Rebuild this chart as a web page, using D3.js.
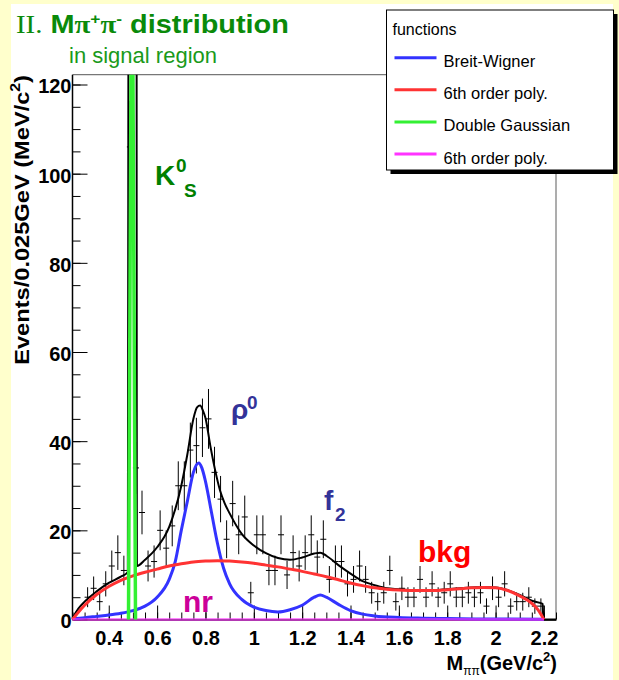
<!DOCTYPE html>
<html>
<head>
<meta charset="utf-8">
<script src="https://cdn.jsdelivr.net/npm/d3@7"></script>
<style>
  body { margin: 0; background: #ffffcc; }
  svg { display: block; }
  text { font-family: "Liberation Sans", Arial, sans-serif; }
</style>
</head>
<body>
<div id="plot"></div>
<script>
// histogram: events per 0.025 GeV bin, first bin starts at 0.25 GeV
const binStart = 0.25,
    binWidth = 0.025;
const counts = [
    0, 0, 5, 7, 4, 8, 12, 15, 11, 106,
    34, 24, 12, 13, 20, 16, 21, 30, 30, 38,
    39, 43, 45, 33, 27, 18, 26, 19, 23, 6,
    19, 19, 11, 11, 19, 10, 15, 12, 15, 19,
    14, 18, 9, 13, 13, 8, 9, 12, 9, 6,
    4, 6, 11, 4, 7, 5, 5, 9, 5, 8,
    5, 6, 8, 5, 5, 6, 5, 6, 3, 7,
    5, 8, 3, 4, 4, 5, 3, 3
];

// fitted curves as [mass, events]
const totalFit = [
    [0.25, 0.3], [0.275, 2.5], [0.30, 4.0], [0.35, 6.3], [0.40, 8.2], [0.45, 9.6],
    [0.478, 10.6], [0.4855, 300], [0.5135, 300], [0.5165, 12.0], [0.55, 13.4],
    [0.60, 16.2], [0.65, 20.8], [0.70, 30], [0.725, 37], [0.75, 45], [0.765, 47.6],
    [0.778, 48.0], [0.79, 46.8], [0.80, 45.2], [0.82, 39], [0.84, 33.5], [0.86, 29],
    [0.88, 26], [0.90, 23.8], [0.95, 19.2], [1.00, 16.6], [1.05, 14.9], [1.10, 13.8],
    [1.15, 13.4], [1.20, 13.9], [1.25, 14.8], [1.275, 15.0], [1.30, 14.3], [1.35, 12.2],
    [1.40, 10.3], [1.45, 8.6], [1.50, 7.7], [1.55, 7.0], [1.60, 6.8], [1.65, 6.6],
    [1.70, 6.6], [1.75, 6.6], [1.80, 6.8], [1.85, 7.0], [1.90, 7.2], [1.95, 7.3],
    [2.00, 7.2], [2.05, 6.6], [2.10, 5.5], [2.15, 4.2], [2.195, 3.5], [2.1975, 0], [2.25, 0]
];
const breitWigner = [
    [0.25, 0.2], [0.30, 0.4], [0.35, 0.7], [0.40, 1.0], [0.45, 1.4], [0.50, 2.0],
    [0.55, 3.0], [0.60, 5.0], [0.65, 9.0], [0.675, 13], [0.70, 20], [0.725, 26.5],
    [0.75, 33], [0.772, 35.1], [0.785, 34], [0.80, 31], [0.825, 24], [0.85, 17],
    [0.875, 11.5], [0.90, 8], [0.95, 4.5], [1.00, 2.8], [1.05, 2.0], [1.10, 1.7],
    [1.15, 2.2], [1.20, 3.2], [1.25, 5.0], [1.275, 5.5], [1.30, 5.0], [1.35, 3.4],
    [1.40, 2.0], [1.45, 1.2], [1.50, 0.8], [1.60, 0.45], [1.70, 0.3], [1.80, 0.2],
    [2.00, 0.1], [2.20, 0.05]
];
const bkgPoly = [
    [0.25, 0], [0.275, 1.7], [0.30, 3.2], [0.35, 5.6], [0.40, 7.4], [0.45, 8.8],
    [0.50, 9.8], [0.55, 10.6], [0.60, 11.3], [0.65, 12.0], [0.70, 12.5], [0.75, 12.9],
    [0.80, 13.1], [0.85, 13.2], [0.90, 13.1], [0.95, 12.9], [1.00, 12.6], [1.05, 12.2],
    [1.10, 11.8], [1.15, 11.3], [1.20, 10.8], [1.25, 10.2], [1.30, 9.6], [1.35, 8.9],
    [1.40, 8.2], [1.45, 7.6], [1.50, 7.1], [1.55, 6.8], [1.60, 6.6], [1.65, 6.5],
    [1.70, 6.5], [1.75, 6.5], [1.80, 6.7], [1.85, 6.9], [1.90, 7.1], [1.95, 7.2],
    [2.00, 7.1], [2.05, 6.5], [2.10, 5.3], [2.15, 3.6], [2.175, 2.2], [2.20, 0]
];
const doubleGauss = [[0.4816, 0], [0.496, 170], [0.5106, 0]];
const nrPoly = [[0.25, 0], [0.70, 0], [1.50, 0], [2.20, 0]];

// axis ticks
const xTicks = [0.4, 0.6, 0.8, 1.0, 1.2, 1.4, 1.6, 1.8, 2.0, 2.2];
const xTickLabels = ["0.4", "0.6", "0.8", "1", "1.2", "1.4", "1.6", "1.8", "2", "2.2"];
const yTicks = [0, 20, 40, 60, 80, 100, 120];
const yTickLabels = ["0", "20", "40", "60", "80", "100", "120"];

// legend
const legendLabels = ["Breit-Wigner", "6th order poly.", "Double Gaussian", "6th order poly."];
const legendColors = ["#3333ff", "#ff3333", "#33f033", "#ff33ff"];

// frame of the plot
const frame = { left: 72.5, right: 556, top: 74.7, bottom: 619.5 };

const x = d3.scaleLinear().domain([0.25, 2.25]).range([frame.left, frame.right]);
const y = d3.scaleLinear().domain([0, 122.2]).range([frame.bottom, frame.top]);

const svg = d3.select("#plot")
    .append("svg")
    .attr("width", 619)
    .attr("height", 680);

// slide background
svg.append("rect").attr("width", 619).attr("height", 680).attr("fill", "#ffffcc");
svg.append("rect").attr("x", 11).attr("y", 4).attr("width", 602).attr("height", 676).attr("fill", "#fff");

// top and right frame (grey)
svg.append("path")
    .attr("d", `M${frame.left},${frame.top}H${frame.right}V${frame.bottom}`)
    .attr("fill", "none").attr("stroke", "#777").attr("stroke-width", 1.2);

// y axis, ticks inside
const yMinor = d3.range(0, 121, 5);
svg.append("g")
    .attr("transform", `translate(${frame.left},0)`)
    .call(d3.axisLeft(y).tickValues(yMinor).tickSizeInner(-8).tickSizeOuter(0).tickFormat(""))
    .call(g => g.select(".domain").remove());
svg.append("g")
    .attr("class", "y axis")
    .attr("transform", `translate(${frame.left},0)`)
    .call(d3.axisLeft(y).tickValues(yTicks).tickSizeInner(-15).tickSizeOuter(0).tickPadding(1)
        .tickFormat((d, i) => yTickLabels[i]))
    .call(g => g.select(".domain").attr("d", `M0,${frame.top}V${frame.bottom}`).attr("stroke-width", 1.5));

// x axis, ticks inside
const xMinor = d3.range(0.25, 2.26, 0.05);
svg.append("g")
    .attr("transform", `translate(0,${frame.bottom})`)
    .call(d3.axisBottom(x).tickValues(xMinor).tickSizeInner(-7).tickSizeOuter(0).tickFormat(""))
    .call(g => g.select(".domain").remove());
svg.append("g")
    .attr("class", "x axis")
    .attr("transform", `translate(0,${frame.bottom})`)
    .call(d3.axisBottom(x).tickValues(xTicks).tickSizeInner(-14).tickSizeOuter(0).tickPadding(11)
        .tickFormat((d, i) => xTickLabels[i]))
    .call(g => g.select(".domain").attr("stroke-width", 1.5));

svg.selectAll(".axis text")
    .attr("fill", "#000")
    .style("font-size", "20px")
    .style("font-weight", "bold")
    .style("font-family", "'Liberation Sans', Arial, sans-serif");
svg.selectAll(".y.axis text").attr("dy", "0.42em");
svg.selectAll(".tick line").attr("stroke", "#000");

// clip for the curves
svg.append("clipPath").attr("id", "plotClip")
    .append("rect")
    .attr("x", frame.left - 2).attr("y", frame.top)
    .attr("width", frame.right - frame.left + 3).attr("height", frame.bottom - frame.top + 5);

const plot = svg.append("g").attr("clip-path", "url(#plotClip)");

// data points with poisson error bars
const bins = counts.map((c, i) => ({ lo: binStart + i * binWidth, hi: binStart + (i + 1) * binWidth, c: c }))
    .filter(d => d.c > 0);
const pts = plot.append("g").attr("stroke", "#000").attr("stroke-width", 1);
pts.selectAll("line.err")
    .data(bins)
    .join("line")
    .attr("class", "err")
    .attr("x1", d => x((d.lo + d.hi) / 2)).attr("x2", d => x((d.lo + d.hi) / 2))
    .attr("y1", d => y(d.c - Math.sqrt(d.c))).attr("y2", d => y(d.c + Math.sqrt(d.c)));
pts.selectAll("line.bin")
    .data(bins)
    .join("line")
    .attr("class", "bin")
    .attr("x1", d => x(d.lo)).attr("x2", d => x(d.hi))
    .attr("y1", d => y(d.c)).attr("y2", d => y(d.c));

const smooth = d3.line().x(d => x(d[0])).y(d => y(d[1])).curve(d3.curveMonotoneX);
const straight = d3.line().x(d => x(d[0])).y(d => y(d[1]));

plot.append("path").datum(totalFit).attr("d", smooth)
    .attr("fill", "none").attr("stroke", "#000").attr("stroke-width", 2);
plot.append("path").datum(breitWigner).attr("d", smooth)
    .attr("fill", "none").attr("stroke", "#3333ff").attr("stroke-width", 3);
plot.append("path").datum(bkgPoly).attr("d", smooth)
    .attr("fill", "none").attr("stroke", "#ff3333").attr("stroke-width", 3);
plot.append("path").datum(nrPoly).attr("d", straight)
    .attr("fill", "none").attr("stroke", "#ff33ff").attr("stroke-opacity", 0.6).attr("stroke-width", 3);
plot.append("path").datum(doubleGauss).attr("d", straight)
    .attr("fill", "none").attr("stroke", "#33f033").attr("stroke-width", 3.5);

// component labels
const k0 = svg.append("text").attr("fill", "#008000").style("font-weight", "bold");
k0.append("tspan").attr("x", 155).attr("y", 185).style("font-size", "28px").text("K");
k0.append("tspan").attr("x", 176).attr("y", 172).style("font-size", "19px").text("0");
k0.append("tspan").attr("x", 184).attr("y", 197).style("font-size", "19px").text("S");

const rho = svg.append("text").attr("fill", "#333399").style("font-weight", "bold");
rho.append("tspan").attr("x", 231).attr("y", 419).style("font-size", "28px").text("ρ");
rho.append("tspan").attr("x", 247).attr("y", 409).style("font-size", "19px").text("0");

const f2 = svg.append("text").attr("fill", "#333399").style("font-weight", "bold");
f2.append("tspan").attr("x", 324).attr("y", 510).style("font-size", "28px").text("f");
f2.append("tspan").attr("x", 335).attr("y", 521).style("font-size", "19px").text("2");

svg.append("text").attr("x", 418).attr("y", 562).attr("fill", "#ff0000")
    .style("font-size", "30px").style("font-weight", "bold").text("bkg");
svg.append("text").attr("x", 183).attr("y", 612).attr("fill", "#cc0099")
    .style("font-size", "30px").style("font-weight", "bold").text("nr");

// axis titles
const xt = svg.append("text").attr("x", 557).attr("y", 670).attr("text-anchor", "end")
    .style("font-size", "20px").style("font-weight", "bold");
xt.append("tspan").text("M");
xt.append("tspan").attr("dy", 5).style("font-size", "12px").style("font-weight", "normal").text("ππ");
xt.append("tspan").attr("dy", -5).text("(GeV/c");
xt.append("tspan").attr("dy", -9).style("font-size", "13px").text("2");
xt.append("tspan").attr("dy", 9).text(")");

const yt = svg.append("text").attr("x", 0).attr("y", 0).attr("text-anchor", "end")
    .style("font-size", "21px").style("font-weight", "bold");
yt.append("tspan").text("Events/0.025GeV (MeV/c");
yt.append("tspan").attr("dy", -9).style("font-size", "14px").text("2");
yt.append("tspan").attr("dy", 9).text(")");
const ytw = yt.node().getBBox().width;
yt.attr("transform", `translate(29,75) rotate(-90) scale(${290 / ytw},1)`);

// slide title
const title = svg.append("text").attr("x", 0).attr("y", 33).attr("fill", "#0a8a0a")
    .style("font-size", "25px").style("font-weight", "bold");
title.append("tspan").style("font-family", "'Liberation Serif', serif").style("font-weight", "normal").text("II.");
title.append("tspan").text(" M");
title.append("tspan").style("font-family", "'Liberation Serif', serif").text("π");
title.append("tspan").attr("dy", -9).style("font-size", "15px").text("+");
title.append("tspan").attr("dy", 9).style("font-family", "'Liberation Serif', serif").text("π");
title.append("tspan").attr("dy", -9).style("font-size", "15px").text("-");
title.append("tspan").attr("dy", 9).text(" distribution");
const tw = title.node().getBBox().width;
title.attr("transform", `translate(16,0) scale(${273 / tw},1)`);

svg.append("text").attr("x", 69).attr("y", 63).attr("fill", "#1a9a1a")
    .style("font-size", "22px").text("in signal region");

// legend box with shadow
const lg = svg.append("g").attr("transform", "translate(386.5,10)");
lg.append("rect").attr("x", 4).attr("y", 4).attr("width", 227).attr("height", 160).attr("fill", "#000");
lg.append("rect").attr("width", 227).attr("height", 160).attr("fill", "#fff").attr("stroke", "#000");
lg.append("text").attr("x", 6).attr("y", 25).style("font-size", "16px").text("functions");
const items = lg.selectAll("g.item")
    .data(legendLabels)
    .join("g")
    .attr("class", "item")
    .attr("transform", (d, i) => `translate(0,${47.7 + i * 32.1})`);
items.append("line")
    .attr("x1", 8).attr("x2", 50)
    .attr("stroke", (d, i) => legendColors[i]).attr("stroke-width", 3);
items.append("text")
    .attr("x", 57).attr("y", 9.5)
    .style("font-size", "16.5px")
    .text(d => d);
</script>
</body>
</html>
